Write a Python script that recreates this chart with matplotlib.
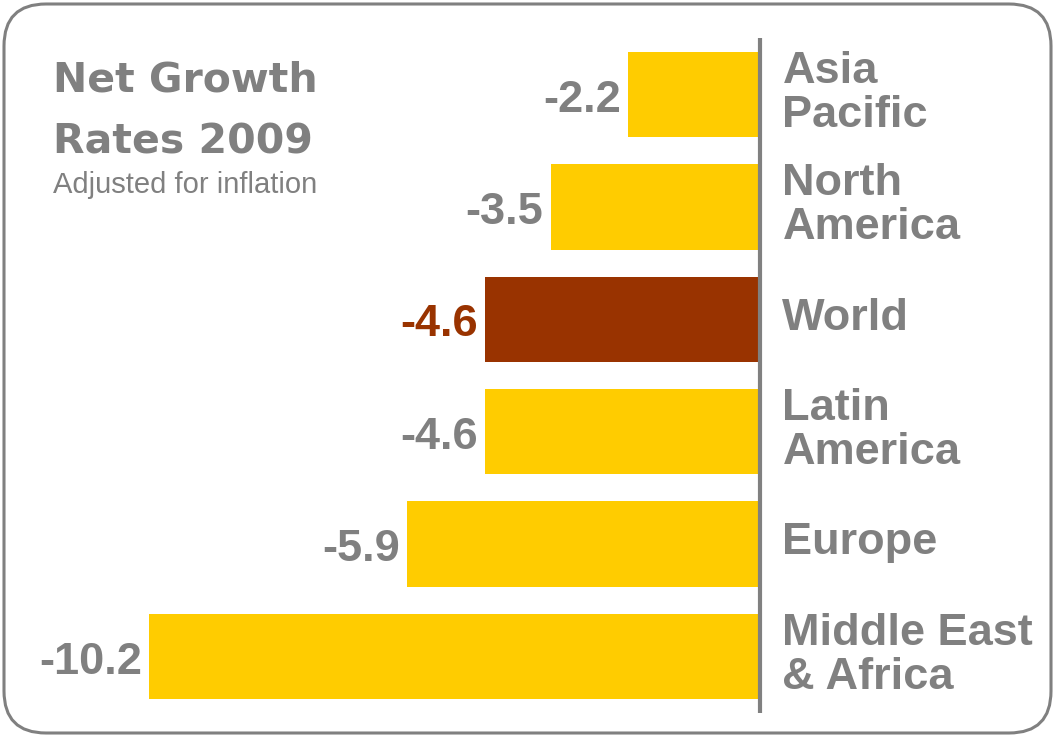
import matplotlib.pyplot as plt
from matplotlib.patches import FancyBboxPatch
import numpy as np

regions = ['Asia\nPacific', 'North\nAmerica', 'World', 'Latin\nAmerica', 'Europe', 'Middle East\n& Africa']
growth = [-2.2, -3.5, -4.6, -4.6, -5.9, -10.2]
highlight = 'World'

gold = '#FFCC00'
brown = '#993300'
grey = '#808080'

plt.rcParams['font.family'] = ['Liberation Sans', 'DejaVu Sans']

fig = plt.figure(figsize=(10.55, 7.37), dpi=100)

# frame with rounded corners, drawn in pixel units
bg = fig.add_axes([0, 0, 1, 1])
bg.set_xlim(0, 1055)
bg.set_ylim(0, 737)
bg.axis('off')
frame = FancyBboxPatch((4, 4), 1047, 729, boxstyle='round,pad=0,rounding_size=42',
                       fc='white', ec=grey, lw=2.2)
bg.add_patch(frame)

ax = fig.add_axes([0, 0, 1, 1])
ax.patch.set_alpha(0)
idx = np.arange(len(regions))
colors = [brown if r == highlight else gold for r in regions]
ax.barh(idx, growth, height=0.76, color=colors)
ax.set_xlim(-12.69, 4.92)
ax.set_ylim(5.716, -0.841)
ax.plot([0, 0], [-0.5, 5.5], color=grey, lw=3, solid_capstyle='butt')
ax.axis('off')

for i, (r, v) in enumerate(zip(regions, growth)):
    c = brown if r == highlight else grey
    ax.text(v - 0.12, i + 0.05, f'{v:.1f}', ha='right', va='center', fontsize=32.5,
            fontweight='bold', color=c)
    ax.text(0.37, i - 0.01, r, ha='left', va='center', fontsize=32.5, fontweight='bold',
            color=grey, linespacing=1.1)

fig.text(53 / 1055, 1 - 92 / 737, 'Net Growth', fontsize=29.5, fontweight='bold',
         color=grey, family='DejaVu Sans', va='baseline')
fig.text(53 / 1055, 1 - 153 / 737, 'Rates 2009', fontsize=29.5, fontweight='bold',
         color=grey, family='DejaVu Sans', va='baseline')
fig.text(53 / 1055, 1 - 193 / 737, 'Adjusted for inflation', fontsize=21,
         color=grey, va='baseline')

fig.savefig('out.png', dpi=100)
